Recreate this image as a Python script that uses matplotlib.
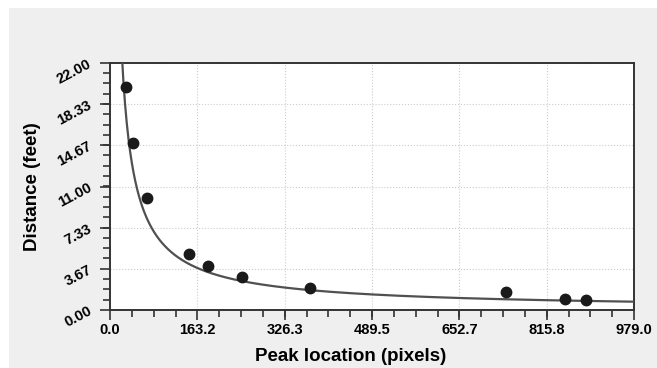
import matplotlib
matplotlib.use('Agg')
import matplotlib.pyplot as plt
from matplotlib.patches import Rectangle
from matplotlib.ticker import AutoMinorLocator
import numpy as np

plt.rcParams['font.family'] = ['Liberation Sans', 'DejaVu Sans']

# Measured peaks
peak_px = [30, 43, 69, 148, 183, 247, 374, 740, 850, 889]
distance_ft = [19.86, 14.87, 9.97, 4.99, 3.92, 2.94, 1.96, 1.60, 0.98, 0.89]

x_ticks = [0.0, 163.2, 326.3, 489.5, 652.7, 815.8, 979.0]
y_ticks = [0.00, 3.67, 7.33, 11.00, 14.67, 18.33, 22.00]

# Power-law fit curve y = a * x^b (parameters read from the drawn fit)
fit_a, fit_b = 374.5, -0.904

W, H = 657, 368
fig = plt.figure(figsize=(W / 100, H / 100), dpi=100)
fig.patch.set_facecolor('white')
fig.patches.append(Rectangle((9 / W, 0), 1 - 9 / W, (H - 8) / H,
                             transform=fig.transFigure, facecolor='#efefef',
                             edgecolor='none', zorder=-10))

ax = fig.add_axes([110 / W, (H - 310) / H, 524 / W, 247 / H])
ax.set_facecolor('white')

xs = np.linspace(20, 979, 600)
ax.plot(xs, fit_a * xs ** fit_b, color='#505050', lw=1.6, zorder=3)
ax.plot(peak_px, distance_ft, 'o', color='#1a1a1a', markersize=7.5, zorder=4)

ax.set_xlim(0, 979)
ax.set_ylim(0, 22)
ax.set_xticks(x_ticks)
ax.set_yticks(y_ticks)
ax.set_xticklabels(['%.1f' % v for v in x_ticks], fontsize=10.5, fontweight='bold')
ax.set_yticklabels(['%.2f' % v for v in y_ticks], fontsize=10.5, fontweight='bold',
                   rotation=28, rotation_mode='anchor', ha='right', va='center')
ax.xaxis.set_minor_locator(AutoMinorLocator(4))
ax.yaxis.set_minor_locator(AutoMinorLocator(4))
ax.tick_params(which='major', length=7, width=1.2, color='#333333', pad=2)
ax.tick_params(which='minor', length=5, width=1.2, color='#333333')
ax.tick_params(axis='y', which='major', pad=7)

ax.grid(True, which='major', color='#cccccc', linestyle=':', lw=0.8)
for s in ax.spines.values():
    s.set_color('#333333')
    s.set_linewidth(1.4)

ax.set_xlabel('Peak location (pixels)', fontsize=13.5, fontweight='bold')
ax.set_ylabel('Distance (feet)', fontsize=13.5, fontweight='bold')
ax.xaxis.set_label_coords((351 - 110) / 524, -(348 - 310) / 247)
ax.yaxis.set_label_coords(-(110 - 41) / 524, 0.5)

plt.savefig('out.png', dpi=100)
